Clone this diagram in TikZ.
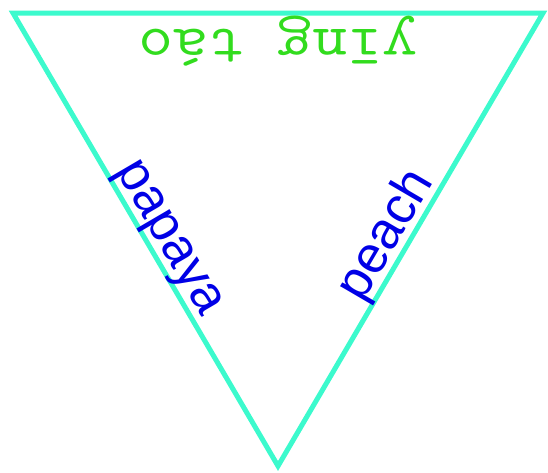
\documentclass[tikz,border=0pt]{standalone}
\usepackage{fontspec}
\usepackage{graphicx}
\setsansfont{Liberation Sans}
\definecolor{edgec}{RGB}{60,250,205}
\definecolor{lblue}{RGB}{0,0,230}
\definecolor{lgreen}{RGB}{50,220,30}
\begin{document}
\begin{tikzpicture}[x=1pt,y=-1pt,
  edgeline/.style={draw=edgec, line width=5pt, line join=miter},
  sidelabel/.style={sloped, anchor=base, inner sep=0pt, text=lblue, font=\sffamily\fontsize{52}{52}\selectfont},
  toplabel/.style={sloped, allow upside down, anchor=base, inner sep=0pt, text=lgreen, font=\ttfamily\fontsize{59}{59}\selectfont}]
\useasboundingbox (0,0) rectangle (548,472);
\coordinate (A) at (13,13);
\coordinate (B) at (543,13);
\coordinate (C) at (278,466);
\draw[edgeline] (C) -- node[sidelabel, pos=0.483] (pe) {\raisebox{9pt}{peach}} (B)
  -- node[toplabel] (yt) {\raisebox{16.5pt}{\scalebox{1.15}[1]{yīng táo}}} (A)
  -- node[sidelabel, pos=0.52] (pa) {\raisebox{9pt}{papaya}} cycle;
\end{tikzpicture}
\end{document}
